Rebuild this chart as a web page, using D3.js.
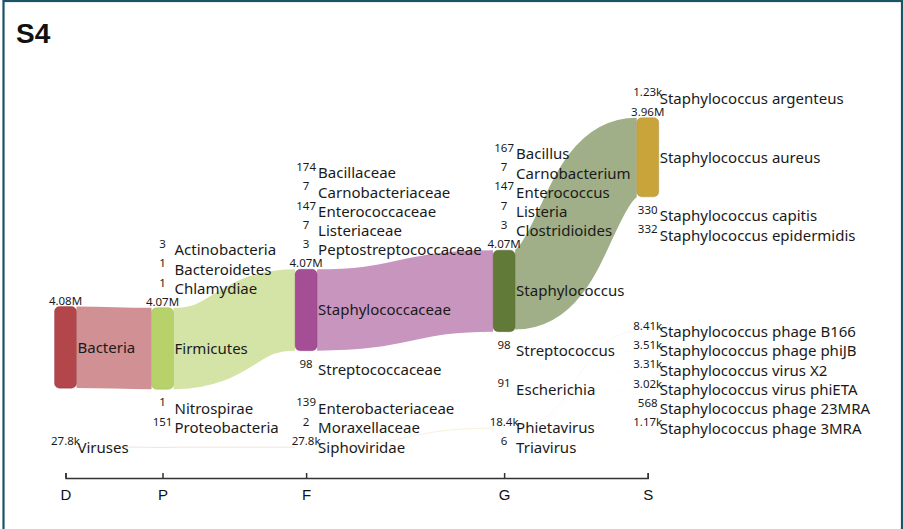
<!DOCTYPE html>
<html><head><meta charset="utf-8">
<script src="https://cdn.jsdelivr.net/npm/d3@7"></script>
<style>
html,body{margin:0;padding:0;background:#fff;}
svg{display:block;}
</style></head><body>
<svg id="chart" width="903" height="529"></svg>
<script>
(function () {
// ---------------- data ----------------
const ranks = ["D", "P", "F", "G", "S"];

// nodes in column order; "·…" entries are hidden placeholder nodes that carry a lineage through a rank
const nodeNames = [
  "Bacteria", "Viruses",
  "Actinobacteria", "Bacteroidetes", "Chlamydiae", "Firmicutes", "Nitrospirae", "Proteobacteria", "·Viruses/P",
  "Bacillaceae", "Carnobacteriaceae", "Enterococcaceae", "Listeriaceae", "Peptostreptococcaceae",
  "Staphylococcaceae", "Streptococcaceae", "·Nitrospirae/F", "Enterobacteriaceae", "Moraxellaceae", "Siphoviridae",
  "Bacillus", "Carnobacterium", "Enterococcus", "Listeria", "Clostridioides",
  "Staphylococcus", "Streptococcus", "·Nitrospirae/G", "Escherichia", "·Moraxellaceae/G", "Phietavirus", "Triavirus",
  "Staphylococcus argenteus", "Staphylococcus aureus", "Staphylococcus capitis", "Staphylococcus epidermidis",
  "·Streptococcus/S", "·Nitrospirae/S", "·Escherichia/S", "·Moraxellaceae/S",
  "Staphylococcus phage B166", "Staphylococcus phage phiJB", "Staphylococcus virus X2",
  "Staphylococcus virus phiETA", "Staphylococcus phage 23MRA", "Staphylococcus phage 3MRA", "·Triavirus/S"
];
const nodeRanks = [
  "D", "D",
  "P", "P", "P", "P", "P", "P", "P",
  "F", "F", "F", "F", "F", "F", "F", "F", "F", "F", "F",
  "G", "G", "G", "G", "G", "G", "G", "G", "G", "G", "G", "G",
  "S", "S", "S", "S", "S", "S", "S", "S", "S", "S", "S", "S", "S", "S", "S"
];
const nodeValues = [
  4080000, 27800,
  3, 1, 1, 4070000, 1, 151, 27800,
  174, 7, 147, 7, 3, 4070000, 98, 1, 139, 2, 27800,
  167, 7, 147, 7, 3, 4070000, 98, 1, 91, 2, 18400, 6,
  1230, 3960000, 330, 332, 98, 1, 91, 2, 8410, 3510, 3310, 3020, 568, 1170, 6
];
const nodeColors = {
  "Bacteria": "#b2464b", "Viruses": "#ee9eab", "Firmicutes": "#b7d16b", "Staphylococcaceae": "#a44e95",
  "Siphoviridae": "#eab550", "Staphylococcus": "#617a37", "Phietavirus": "#bcc49f", "Staphylococcus aureus": "#c9a43a",
  "Proteobacteria": "#e7a07a", "Enterobacteriaceae": "#d9c27a", "Streptococcaceae": "#9bc9c4"
};
const linkSources = [
  "Bacteria", "Bacteria", "Bacteria", "Bacteria", "Bacteria", "Bacteria",
  "Viruses", "·Viruses/P",
  "Firmicutes", "Firmicutes", "Firmicutes", "Firmicutes", "Firmicutes", "Firmicutes", "Firmicutes",
  "Nitrospirae", "Proteobacteria", "Proteobacteria",
  "Bacillaceae", "Carnobacteriaceae", "Enterococcaceae", "Listeriaceae", "Peptostreptococcaceae",
  "Staphylococcaceae", "Streptococcaceae", "·Nitrospirae/F", "Enterobacteriaceae", "Moraxellaceae", "Siphoviridae", "Siphoviridae",
  "Staphylococcus", "Staphylococcus", "Staphylococcus", "Staphylococcus",
  "Streptococcus", "·Nitrospirae/G", "Escherichia", "·Moraxellaceae/G",
  "Phietavirus", "Phietavirus", "Phietavirus", "Phietavirus", "Phietavirus", "Phietavirus", "Triavirus"
];
const linkTargets = [
  "Actinobacteria", "Bacteroidetes", "Chlamydiae", "Firmicutes", "Nitrospirae", "Proteobacteria",
  "·Viruses/P", "Siphoviridae",
  "Bacillaceae", "Carnobacteriaceae", "Enterococcaceae", "Listeriaceae", "Peptostreptococcaceae", "Staphylococcaceae", "Streptococcaceae",
  "·Nitrospirae/F", "Enterobacteriaceae", "Moraxellaceae",
  "Bacillus", "Carnobacterium", "Enterococcus", "Listeria", "Clostridioides",
  "Staphylococcus", "Streptococcus", "·Nitrospirae/G", "Escherichia", "·Moraxellaceae/G", "Phietavirus", "Triavirus",
  "Staphylococcus argenteus", "Staphylococcus aureus", "Staphylococcus capitis", "Staphylococcus epidermidis",
  "·Streptococcus/S", "·Nitrospirae/S", "·Escherichia/S", "·Moraxellaceae/S",
  "Staphylococcus phage B166", "Staphylococcus phage phiJB", "Staphylococcus virus X2",
  "Staphylococcus virus phiETA", "Staphylococcus phage 23MRA", "Staphylococcus phage 3MRA", "·Triavirus/S"
];

// ---------------- layout parameters ----------------
const nodeWidth = 22, nodePad = 19.25;
const yTop = 99, yBot = 447.5;
const firstCenter = 65.5;
const axisY = 478;
const ITER = 400;

const svg = d3.select("#chart");

// build graph
const nodes = nodeNames.map((name, i) => ({
  name, rank: nodeRanks[i], layer: ranks.indexOf(nodeRanks[i]), value: nodeValues[i],
  hidden: name.startsWith("·"), index: i, sourceLinks: [], targetLinks: []
}));
const byName = new Map(nodes.map(n => [n.name, n]));
const links = linkSources.map((s, i) => {
  const source = byName.get(s), target = byName.get(linkTargets[i]);
  const l = { source, target, value: target.value };
  source.sourceLinks.push(l); target.targetLinks.push(l);
  return l;
});

// node thickness scale
const thick = d3.scaleLinear().domain([0, 4000000]).range([0, 80]);

// ---- classic sankey relaxation (fixed node order inside each column) ----
(function layout() {
  const cols = ranks.map((r, i) => nodes.filter(n => n.layer === i));
  nodes.forEach(n => { n.dy = thick(n.value); });
  links.forEach(l => { l.width = thick(l.value); });
  const ctr = n => n.y + n.dy / 2;
  function resolve() {
    for (const col of cols) {
      let y0 = yTop, n = col.length, node, d;
      for (let i = 0; i < n; ++i) { node = col[i]; d = y0 - node.y; if (d > 0) node.y += d; y0 = node.y + node.dy + nodePad; }
      d = y0 - nodePad - yBot;
      if (d > 0) {
        y0 = node.y -= d;
        for (let i = n - 2; i >= 0; --i) { node = col[i]; d = node.y + node.dy + nodePad - y0; if (d > 0) node.y -= d; y0 = node.y; }
      }
    }
  }
  cols.forEach(col => col.forEach((n, i) => { n.y = yTop + i; }));
  resolve();
  for (let alpha = 1, it = ITER; it > 0; --it) {
    alpha *= 0.99;
    for (let k = cols.length - 1; k >= 0; --k) for (const n of cols[k]) {
      if (!n.sourceLinks.length) continue;
      const y = d3.sum(n.sourceLinks, l => ctr(l.target) * l.value) / d3.sum(n.sourceLinks, l => l.value);
      n.y += (y - ctr(n)) * alpha;
    }
    resolve();
    for (let k = 0; k < cols.length; ++k) for (const n of cols[k]) {
      if (!n.targetLinks.length) continue;
      const y = d3.sum(n.targetLinks, l => ctr(l.source) * l.value) / d3.sum(n.targetLinks, l => l.value);
      n.y += (y - ctr(n)) * alpha;
    }
    resolve();
  }
  nodes.forEach(n => { n.y0 = n.y; n.y1 = n.y + n.dy; });
  nodes.forEach(n => {
    n.sourceLinks.sort((a, b) => a.target.y0 - b.target.y0);
    n.targetLinks.sort((a, b) => a.source.y0 - b.source.y0);
  });
  nodes.forEach(n => {
    let a = n.y0, b = n.y0;
    for (const l of n.sourceLinks) { l.y0 = a + l.width / 2; a += l.width; }
    for (const l of n.targetLinks) { l.y1 = b + l.width / 2; b += l.width; }
  });
})();

// column x: spacing grows with the longest label in each column
const maxChars = ranks.map(r => d3.max(nodes.filter(n => n.rank === r && !n.hidden), n => n.name.length));
const gapScale = d3.scaleLinear().domain([8, 21]).range([97, 198]);
const centers = [firstCenter];
for (let i = 1; i < ranks.length; i++) centers.push(centers[i - 1] + gapScale(maxChars[i - 1]));
const x = d3.scaleOrdinal().domain(ranks).range(centers);
nodes.forEach(n => { n.x0 = x(n.rank) - nodeWidth / 2; n.x1 = n.x0 + nodeWidth; });

// colour: own colour, or inherited along the lineage
nodes.forEach(n => { n.color = nodeColors[n.name] || null; });
for (let k = 0; k < ranks.length; k++) nodes.forEach(n => {
  if (!n.color && n.targetLinks[0] && n.targetLinks[0].source.color) n.color = n.targetLinks[0].source.color;
});
nodes.forEach(n => { if (!n.color) n.color = "#999999"; });

// frame + title
svg.append("rect").attr("x", 3.5).attr("y", 1).attr("width", 898.5).attr("height", 600)
  .attr("fill", "none").attr("stroke", "#1b5467").attr("stroke-width", 2.2);
svg.append("text").attr("x", 16).attr("y", 43).text("S4")
  .attr("font-family", "Liberation Sans, Arial, sans-serif").attr("font-weight", "bold")
  .attr("font-size", 28).attr("fill", "#111");

const linkPath = d3.linkHorizontal().source(d => [d.source.x1, d.y0]).target(d => [d.target.x0, d.y1]);
svg.append("g").attr("fill", "none")
  .selectAll("path").data(links).join("path")
  .attr("d", linkPath)
  .attr("stroke", d => d.source.color)
  .attr("stroke-opacity", 0.6)
  .attr("stroke-width", d => d.width);

// hidden pass-through nodes continue their lineage's line
svg.append("g").selectAll("rect").data(nodes.filter(n => n.hidden && n.targetLinks.length && n.sourceLinks.length)).join("rect")
  .attr("x", d => d.x0).attr("y", d => d.y0).attr("width", nodeWidth).attr("height", d => d.y1 - d.y0)
  .attr("fill", d => d.color).attr("fill-opacity", 0.6);

svg.append("g").selectAll("rect").data(nodes.filter(n => !n.hidden && n.y1 - n.y0 > 1)).join("rect")
  .attr("x", d => d.x0).attr("y", d => d.y0)
  .attr("width", nodeWidth).attr("height", d => d.y1 - d.y0)
  .attr("rx", 5).attr("ry", 5)
  .attr("fill", d => d.color)
  .attr("stroke", d => d3.color(d.color).darker(0.7))
  .attr("stroke-opacity", 0.35).attr("stroke-width", 1);

const fmt = v => v < 1000 ? d3.format("d")(v) : d3.format(".3s")(v);
const shown = nodes.filter(n => !n.hidden);
const lab = svg.append("g").attr("font-family", "Noto Sans, sans-serif").attr("fill", "#1a1a1a");
lab.selectAll("text.name").data(shown).join("text").attr("class", "name")
  .attr("x", d => d.x1 + 1).attr("y", d => (d.y0 + d.y1) / 2).attr("dy", "0.36em")
  .attr("font-size", 15).text(d => d.name);
lab.selectAll("text.val").data(shown).join("text").attr("class", "val")
  .attr("x", d => (d.x0 + d.x1) / 2).attr("y", d => d.y0 - 2)
  .attr("text-anchor", "middle").attr("font-size", 11.5).text(d => fmt(d.value));

// axis
const axis = d3.axisBottom(x).tickSizeInner(-5).tickSizeOuter(-5).tickPadding(11);
const ag = svg.append("g").attr("transform", `translate(0,${axisY})`).call(axis);
ag.selectAll("text").attr("font-size", 15).attr("font-family", "Liberation Sans, Arial, sans-serif").attr("fill", "#111");
ag.selectAll("path,line").attr("stroke", "#333").attr("stroke-width", 1.5);
})();
</script>
</body></html>
